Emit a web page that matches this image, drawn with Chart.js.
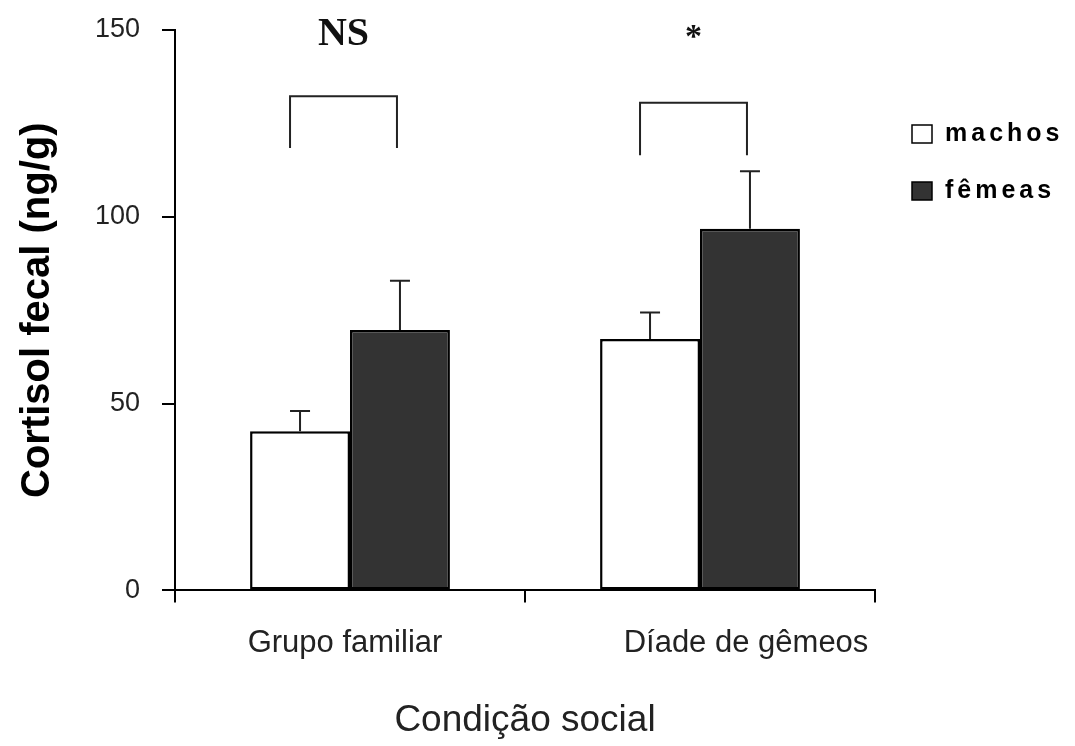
<!DOCTYPE html>
<html>
<head>
<meta charset="utf-8">
<script src="https://cdn.jsdelivr.net/npm/chart.js@4.4.1/dist/chart.umd.min.js"></script>
<style>
  html, body { margin: 0; padding: 0; background: #fff; }
  #wrap { width: 1075px; height: 746px; }
</style>
</head>
<body>
<div id="wrap"><canvas id="cortisolChart" width="1075" height="746"></canvas></div>
<script>
// dados
const categories = ['Grupo familiar', 'Díade de gêmeos'];
const machos = [42.6, 67.3];
const machosErr = [5.4, 7.1];
const femeas = [69.7, 96.8];
const femeasErr = [13.2, 15.4];
const yTicks = [0, 50, 100, 150];

// colchetes de comparação (valores no eixo y)
const bracketTop = [132.3, 130.5];
const bracketBottom = [118.4, 116.5];
const sigLabels = ['NS', '*'];

const errorBars = {
    id: 'errorBars',
    afterDatasetsDraw(chart) {
        const ctx = chart.ctx;
        const y = chart.scales.y;
        const errs = [machosErr, femeasErr];
        ctx.save();
        ctx.strokeStyle = '#222';
        ctx.lineWidth = 2;
        chart.data.datasets.forEach((ds, di) => {
            chart.getDatasetMeta(di).data.forEach((bar, i) => {
                const top = y.getPixelForValue(ds.data[i] + errs[di][i]);
                ctx.beginPath();
                ctx.moveTo(bar.x, bar.y);
                ctx.lineTo(bar.x, top);
                ctx.moveTo(bar.x - 10, top);
                ctx.lineTo(bar.x + 10, top);
                ctx.stroke();
            });
        });
        ctx.restore();
    }
};

const brackets = {
    id: 'brackets',
    afterDraw(chart) {
        const ctx = chart.ctx;
        const y = chart.scales.y;
        const m0 = chart.getDatasetMeta(0).data;
        const m1 = chart.getDatasetMeta(1).data;
        ctx.save();
        ctx.strokeStyle = '#222';
        ctx.lineWidth = 2;
        categories.forEach((c, i) => {
            const x0 = m0[i].x - 10, x1 = m1[i].x - 3;
            const yt = y.getPixelForValue(bracketTop[i]);
            const yb = y.getPixelForValue(bracketBottom[i]);
            ctx.beginPath();
            ctx.moveTo(x0, yb);
            ctx.lineTo(x0, yt);
            ctx.lineTo(x1, yt);
            ctx.lineTo(x1, yb);
            ctx.stroke();

            ctx.fillStyle = '#111';
            ctx.textAlign = 'center';
            ctx.textBaseline = 'alphabetic';
            ctx.font = sigLabels[i] === '*' ? 'bold 34px "Liberation Serif", "Times New Roman", serif'
                                            : 'bold 40px "Liberation Serif", "Times New Roman", serif';
            ctx.fillText(sigLabels[i], (x0 + x1) / 2, sigLabels[i] === '*' ? y.getPixelForValue(150) + 17 : y.getPixelForValue(150) + 15);
        });
        ctx.restore();
    }
};

// rótulos das categorias (levemente deslocados como no original)
const labelShift = [-5, 46];
const xLabels = {
    id: 'xLabels',
    afterDraw(chart) {
        const ctx = chart.ctx;
        const x = chart.scales.x;
        ctx.save();
        ctx.fillStyle = '#222';
        ctx.font = '31px "Liberation Sans", Arial, sans-serif';
        ctx.textAlign = 'center';
        ctx.textBaseline = 'middle';
        chart.data.labels.forEach((lab, i) => {
            ctx.fillText(lab, x.getPixelForValue(i) + labelShift[i], x.top + 53);
        });
        ctx.restore();
    }
};

const legendBox = {
    id: 'legendBox',
    afterDraw(chart) {
        const ctx = chart.ctx;
        const left = chart.chartArea.right + 37;
        ctx.save();
        ctx.font = 'bold 25px "Liberation Sans", Arial, sans-serif';
        ctx.letterSpacing = '4px';
        ctx.textBaseline = 'middle';
        chart.data.datasets.forEach((ds, i) => {
            const cy = chart.chartArea.top + 104 + i * 57;
            ctx.fillStyle = ds.backgroundColor;
            ctx.fillRect(left, cy - 9, 20, 18);
            ctx.strokeStyle = '#000';
            ctx.lineWidth = 1.5;
            ctx.strokeRect(left, cy - 9, 20, 18);
            ctx.fillStyle = '#000';
            ctx.fillText(ds.label, left + 33, cy);
        });
        ctx.restore();
    }
};

new Chart(document.getElementById('cortisolChart'), {
    type: 'bar',
    data: {
        labels: categories,
        datasets: [
            {
                label: 'machos',
                data: machos,
                backgroundColor: '#ffffff',
                borderColor: '#000',
                borderWidth: 2.5,
                borderSkipped: false
            },
            {
                label: 'fêmeas',
                data: femeas,
                backgroundColor: '#333333',
                borderColor: '#000',
                borderWidth: 2.5,
                borderSkipped: false
            }
        ]
    },
    options: {
        responsive: false,
        animation: false,
        devicePixelRatio: 1,
        categoryPercentage: 0.571,
        barPercentage: 1,
        layout: { padding: { left: 14, right: 200, top: 30, bottom: 3 } },
        plugins: {
            legend: { display: false },
            tooltip: { enabled: false }
        },
        scales: {
            x: {
                grid: { offset: true, drawOnChartArea: false, tickLength: 12, color: '#000', lineWidth: 2 },
                border: { color: '#000', width: 2 },
                ticks: { color: 'transparent', font: { size: 31, family: '"Liberation Sans", Arial' }, padding: 22, maxRotation: 0 },
                title: {
                    display: true,
                    text: 'Condição social',
                    color: '#222',
                    font: { size: 37, family: '"Liberation Sans", Arial' },
                    padding: { top: 15, bottom: 0 }
                }
            },
            y: {
                min: 0,
                max: 150,
                afterBuildTicks(scale) { scale.ticks = yTicks.map(v => ({ value: v })); },
                afterFit(scale) {
                    scale.width = 175 - 14;
                    scale.paddingTop = 0;
                    scale.paddingBottom = 0;
                },
                grid: { drawOnChartArea: false, tickLength: 13, color: '#000', lineWidth: 2 },
                border: { color: '#000', width: 2 },
                ticks: { color: '#222', font: { size: 27, family: '"Liberation Sans", Arial' }, padding: 22 },
                title: {
                    display: true,
                    text: 'Cortisol fecal (ng/g)',
                    color: '#000',
                    font: { size: 40, weight: 'bold', family: '"Liberation Sans", Arial' },
                    padding: { top: 0, bottom: 0 }
                }
            }
        }
    },
    plugins: [errorBars, brackets, xLabels, legendBox]
});
</script>
</body>
</html>
